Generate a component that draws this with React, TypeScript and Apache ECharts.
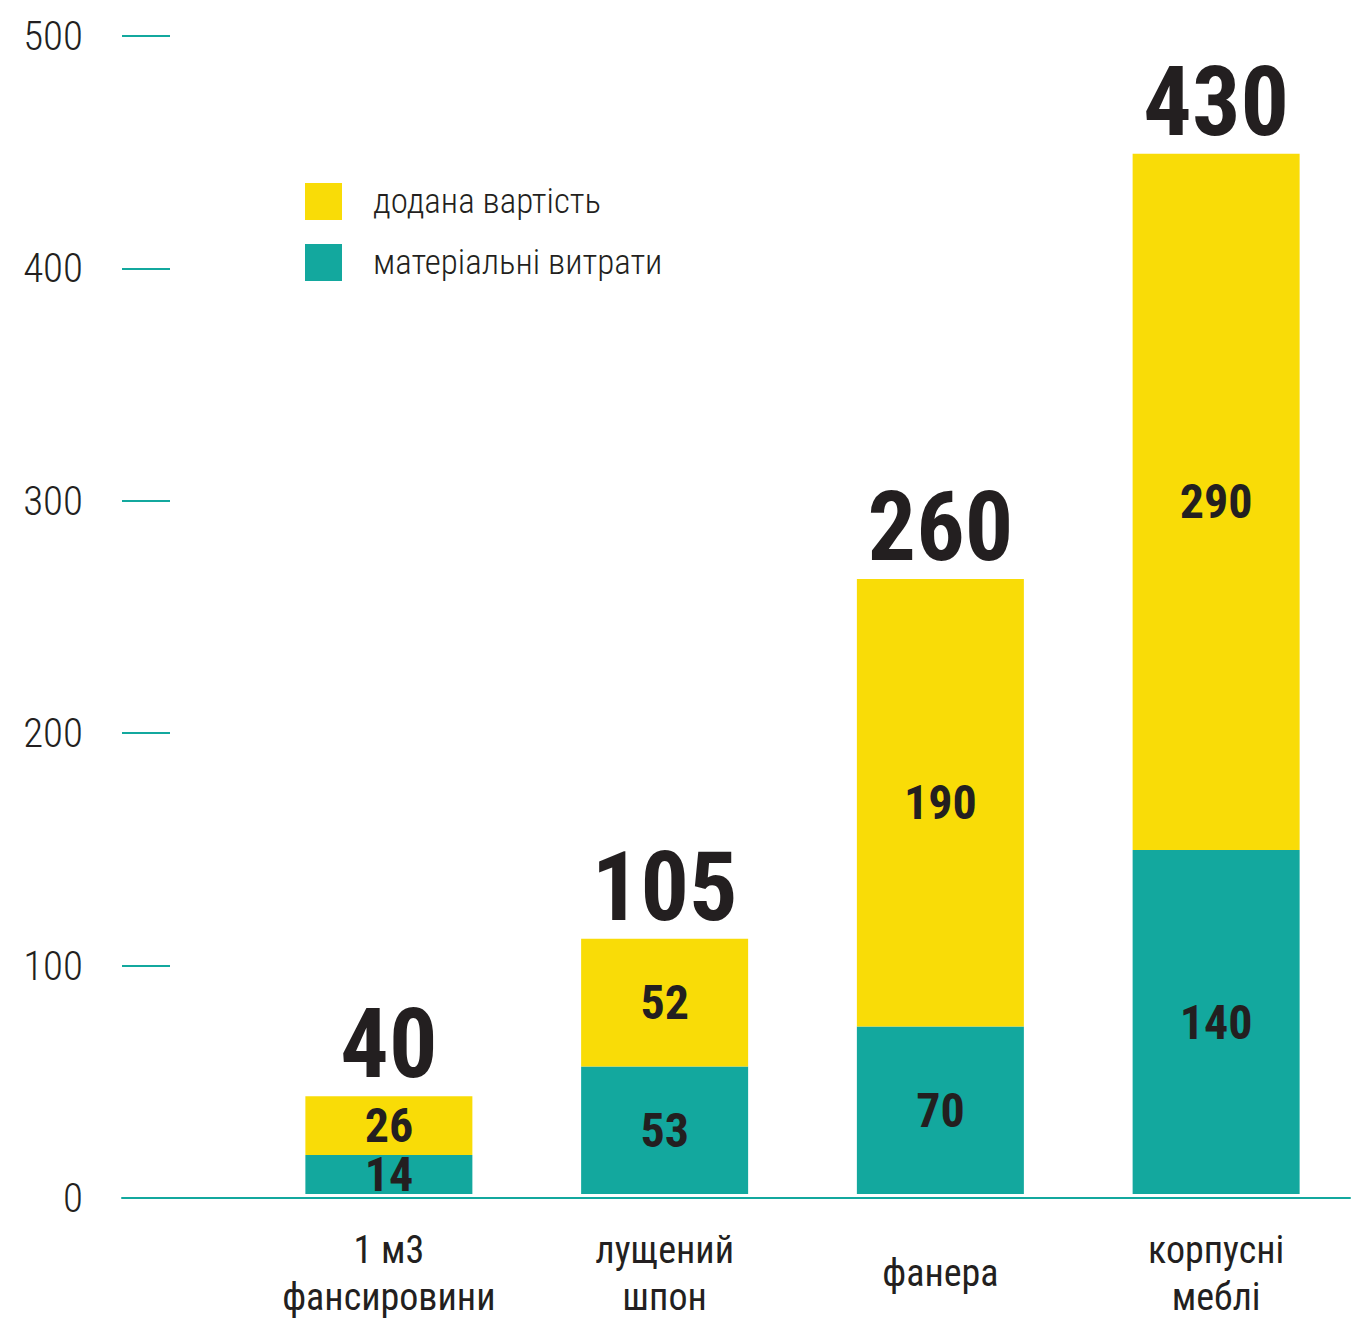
import React, { useEffect, useRef } from "react";
import * as echarts from "echarts";

const categories = ["1 м3\nфансировини", "лущений\nшпон", "фанера", "корпусні\nмеблі"];
// bar segment heights as drawn in the picture
const materialHeights = [16.8, 55.1, 72.3, 148.5];
const addedHeights = [25.4, 55.1, 193.2, 300.7];
// printed labels
const materialLabels = [14, 53, 70, 140];
const addedLabels = [26, 52, 190, 290];
const totalLabels = [40, 105, 260, 430];
const yTicks = [0, 100, 200, 300, 400, 500];

const TEAL = "#13A89E";
const YELLOW = "#F9DC07";
const INK = "#231F20";
const FONT =
  "'Roboto Condensed', 'Noto Sans Condensed', 'Open Sans Condensed', 'Liberation Sans Narrow', 'DejaVu Sans Condensed', sans-serif";

export default function App() {
  const ref = useRef<HTMLDivElement>(null);
  useEffect(() => {
    if (!ref.current) return;
    const chart = echarts.init(ref.current, null, { renderer: "svg" });
    chart.setOption({
      animation: false,
      backgroundColor: "#ffffff",
      textStyle: { fontFamily: FONT },
      legend: {
        data: ["додана вартість", "матеріальні витрати"],
        orient: "vertical",
        left: 305,
        top: 183,
        padding: 0,
        itemWidth: 37,
        itemHeight: 37,
        itemGap: 24,
        icon: "rect",
        selectedMode: false,
        textStyle: { fontFamily: FONT, fontSize: 35, fontWeight: 300, color: INK, padding: [0, 0, 0, 26] },
      },
      grid: [
        { left: 122, right: 7, top: 36, bottom: 122 },
        { left: 251, right: 3, top: 36, bottom: 122 },
      ],
      xAxis: [
        {
          gridIndex: 0,
          type: "category",
          data: [""],
          axisLine: { show: true, lineStyle: { color: TEAL, width: 2 } },
          axisTick: { show: false },
          axisLabel: { show: false },
        },
        {
          gridIndex: 1,
          type: "category",
          data: categories,
          axisLine: { show: false },
          axisTick: { show: false },
          axisLabel: {
            interval: 0,
            margin: 79,
            verticalAlign: "middle",
            fontFamily: FONT,
            fontSize: 38,
            fontWeight: "normal",
            lineHeight: 47,
            color: INK,
          },
        },
      ],
      yAxis: [
        {
          gridIndex: 0,
          type: "value",
          min: 0,
          max: 500,
          interval: 100,
          axisLine: { show: false },
          axisTick: { show: true, inside: true, length: 48, lineStyle: { color: TEAL, width: 2 } },
          splitLine: { show: false },
          axisLabel: {
            margin: 39,
            fontFamily: FONT,
            fontSize: 41,
            fontWeight: 300,
            color: INK,
            formatter: (v: number) => (yTicks.includes(v) ? String(v) : ""),
          },
        },
        {
          gridIndex: 1,
          type: "value",
          min: 0,
          max: 500,
          interval: 100,
          show: false,
          splitLine: { show: false },
        },
      ],
      series: [
        {
          name: "матеріальні витрати",
          type: "bar",
          xAxisIndex: 1,
          yAxisIndex: 1,
          stack: "total",
          barWidth: 167,
          itemStyle: { color: TEAL },
          data: materialHeights,
          label: {
            show: true,
            position: "inside",
            fontFamily: FONT,
            fontWeight: "bold",
            fontSize: 48,
            lineHeight: 40,
            color: INK,
            formatter: (p: any) => String(materialLabels[p.dataIndex]),
          },
        },
        {
          name: "додана вартість",
          type: "bar",
          xAxisIndex: 1,
          yAxisIndex: 1,
          stack: "total",
          barWidth: 167,
          itemStyle: { color: YELLOW },
          data: addedHeights,
          label: {
            show: true,
            position: "inside",
            fontFamily: FONT,
            fontWeight: "bold",
            fontSize: 48,
            lineHeight: 40,
            color: INK,
            formatter: (p: any) => String(addedLabels[p.dataIndex]),
          },
        },
        {
          name: "total",
          type: "bar",
          xAxisIndex: 1,
          yAxisIndex: 1,
          stack: "total",
          barWidth: 167,
          itemStyle: { color: "transparent" },
          data: totalLabels.map(() => 0),
          label: {
            show: true,
            position: "top",
            distance: 4,
            fontFamily: FONT,
            fontWeight: "bold",
            fontSize: 96,
            color: INK,
            formatter: (p: any) => String(totalLabels[p.dataIndex]),
          },
        },
      ],
    });
    return () => chart.dispose();
  }, []);
  return (
    <div
      ref={ref}
      style={{ position: "absolute", left: 0, top: 0, width: 1357, height: 1320 }}
    />
  );
}
